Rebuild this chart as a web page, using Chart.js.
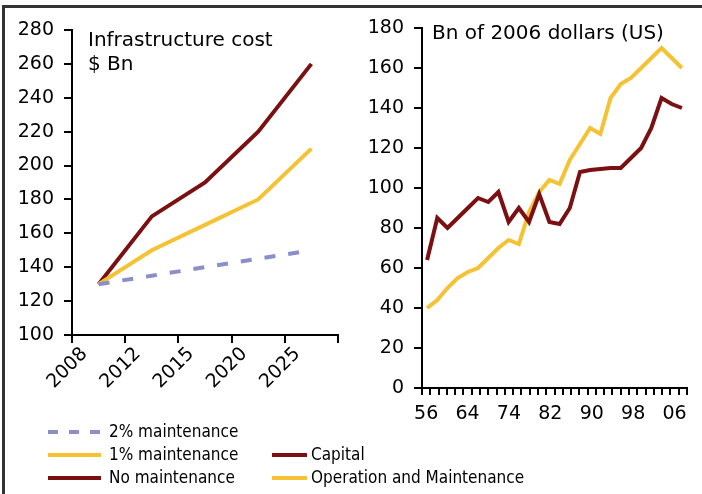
<!DOCTYPE html>
<html>
<head>
<meta charset="utf-8">
<script src="https://cdn.jsdelivr.net/npm/chart.js@4"></script>
<style>
  body { margin: 0; background: #fff; width: 702px; height: 494px; overflow: hidden; position: relative; font-family: "DejaVu Sans", Verdana, sans-serif; }
  .frame { position: absolute; left: 2px; top: 5px; width: 720px; height: 520px; border-left: 3px solid #333; border-top: 3px solid #333; }
  #costWrap { position: absolute; left: 0; top: 0; width: 350px; height: 410px; }
  #histWrap { position: absolute; left: 350px; top: 0; width: 352px; height: 430px; }
  .legend { position: absolute; font-family: "DejaVu Sans Condensed", "DejaVu Sans", sans-serif; font-size: 17px; color: #000; }
  .legend .row { position: absolute; white-space: nowrap; height: 23px; line-height: 23px; }
  .legend .sample { position: absolute; top: 10px; height: 4px; }
  .legend .txt { position: absolute; top: 0; }
</style>
</head>
<body>
<div class="frame"></div>
<div id="costWrap"><canvas id="costChart"></canvas></div>
<div id="histWrap"><canvas id="histChart"></canvas></div>
<div class="legend" id="costLegend" style="left:48px; top:420px;"></div>
<div class="legend" id="histLegend" style="left:272px; top:443px;"></div>
<script>
    // Infrastructure cost projection ($ Bn)
    const costYears = ['2008', '2012', '2015', '2020', '2025'];
    const twoPct = [130, 135, 140, 145, 150];
    const onePct = [130, 150, 165, 180, 210];
    const noMaint = [130, 170, 190, 220, 260];

    // Historic spending, Bn of 2006 dollars (US), every second year 1956-2006
    const histYears = ['56', '58', '60', '62', '64', '66', '68', '70', '72', '74', '76', '78', '80',
                       '82', '84', '86', '88', '90', '92', '94', '96', '98', '00', '02', '04', '06'];
    const capital = [64, 85, 80, 85, 90, 95, 93, 98, 83, 90, 83, 97, 83,
                     82, 90, 108, 109, 109.5, 110, 110, 115, 120, 130, 145, 142, 140];
    const operation = [40, 44, 50, 55, 58, 60, 65, 70, 74, 72, 88, 98, 104,
                       102, 114, 122, 130, 127, 145, 152, 155, 160, 165, 170, 165, 160];
    // axis tick labels of the right panel (one every 5 of 32 ticks)
    const histTickLabels = ['56', '', '', '', '', '64', '', '', '', '', '74', '', '', '', '', '82',
                            '', '', '', '', '90', '', '', '', '', '98', '', '', '', '', '06', ''];

    const maroon = '#7b1012';
    const yellow = '#f5c234';
    const lavender = '#8a8ecb';
    const tickFont = { family: 'DejaVu Sans', size: 19 };

    function panelText(lines, dx, dy, gap) {
      return {
        id: 'panelText',
        afterDraw(chart) {
          const c = chart.ctx, a = chart.chartArea;
          c.save();
          c.font = '20px "DejaVu Sans"';
          c.fillStyle = '#000';
          c.textBaseline = 'middle';
          lines.forEach((t, i) => c.fillText(t, a.left + dx, a.top + dy + i * gap));
          c.restore();
        }
      };
    }

    const axisY = (min, max) => ({
      min: min, max: max,
      ticks: { stepSize: 20, color: '#000', font: tickFont, padding: 10 },
      grid: { drawOnChartArea: false, color: '#000', lineWidth: 2, tickLength: 8 },
      border: { color: '#000', width: 2 },
      afterFit: (s) => { s.width = 72; }
    });

    const costChart = new Chart(document.getElementById('costChart'), {
      type: 'line',
      data: {
        labels: costYears,
        datasets: [
          { label: '2% maintenance', data: twoPct, borderColor: lavender, borderDash: [11, 13], borderWidth: 4, pointRadius: 0 },
          { label: '1% maintenance', data: onePct, borderColor: yellow, borderWidth: 4, pointRadius: 0 },
          { label: 'No maintenance', data: noMaint, borderColor: maroon, borderWidth: 4, pointRadius: 0 }
        ]
      },
      options: {
        responsive: true, maintainAspectRatio: false, animation: false,
        layout: { padding: { top: 30, right: 12, left: 0, bottom: 0 } },
        plugins: { legend: { display: false }, tooltip: { enabled: false } },
        scales: {
          x: {
            offset: true,
            ticks: { color: '#000', font: tickFont, minRotation: 45, maxRotation: 45, padding: 0, labelOffset: -14 },
            grid: { offset: true, drawOnChartArea: false, color: '#000', lineWidth: 2, tickLength: 8 },
            border: { color: '#000', width: 2 },
            afterFit: (s) => { s.height = 75; }
          },
          y: axisY(100, 280)
        }
      },
      plugins: [panelText(['Infrastructure cost', '$ Bn'], 16, 11, 23.5)]
    });

    const histChart = new Chart(document.getElementById('histChart'), {
      type: 'line',
      data: {
        labels: histYears,
        datasets: [
          { label: 'Capital', data: capital, xAxisID: 'xd', borderColor: maroon, borderWidth: 4, pointRadius: 0 },
          { label: 'Operation and Maintenance', data: operation, xAxisID: 'xd', borderColor: yellow, borderWidth: 4, pointRadius: 0 }
        ]
      },
      options: {
        responsive: true, maintainAspectRatio: false, animation: false,
        layout: { padding: { top: 28, right: 15, left: 0, bottom: 0 } },
        plugins: { legend: { display: false }, tooltip: { enabled: false } },
        scales: {
          x: {
            type: 'category',
            labels: histTickLabels,
            offset: true,
            ticks: { color: '#000', font: tickFont, autoSkip: false, maxRotation: 0, padding: 8 },
            grid: { offset: true, drawOnChartArea: false, color: '#000', lineWidth: 2, tickLength: 7 },
            border: { color: '#000', width: 2 },
            afterFit: (s) => { s.height = 42; }
          },
          xd: {
            type: 'category',
            labels: histYears,
            offset: true,
            display: false
          },
          y: axisY(0, 180)
        }
      },
      plugins: [panelText(['Bn of 2006 dollars (US)'], 10, 6, 0)]
    });

    // legends built from the dataset settings
    function buildLegend(chart, el, order, sampleW, gap) {
      order.forEach((idx, row) => {
        const ds = chart.data.datasets[idx];
        const r = document.createElement('div');
        r.className = 'row';
        r.style.top = (row * 23) + 'px';
        const s = document.createElement('div');
        s.className = 'sample';
        s.style.width = sampleW + 'px';
        if (ds.borderDash) {
          s.style.background = 'repeating-linear-gradient(to right, ' + ds.borderColor + ' 0 10px, transparent 10px 21px)';
        } else {
          s.style.background = ds.borderColor;
        }
        const t = document.createElement('span');
        t.className = 'txt';
        t.style.left = (sampleW + gap) + 'px';
        t.textContent = ds.label;
        r.appendChild(s);
        r.appendChild(t);
        el.appendChild(r);
      });
    }
    buildLegend(costChart, document.getElementById('costLegend'), [0, 1, 2], 53, 8);
    buildLegend(histChart, document.getElementById('histLegend'), [0, 1], 35, 4);
</script>
</body>
</html>
